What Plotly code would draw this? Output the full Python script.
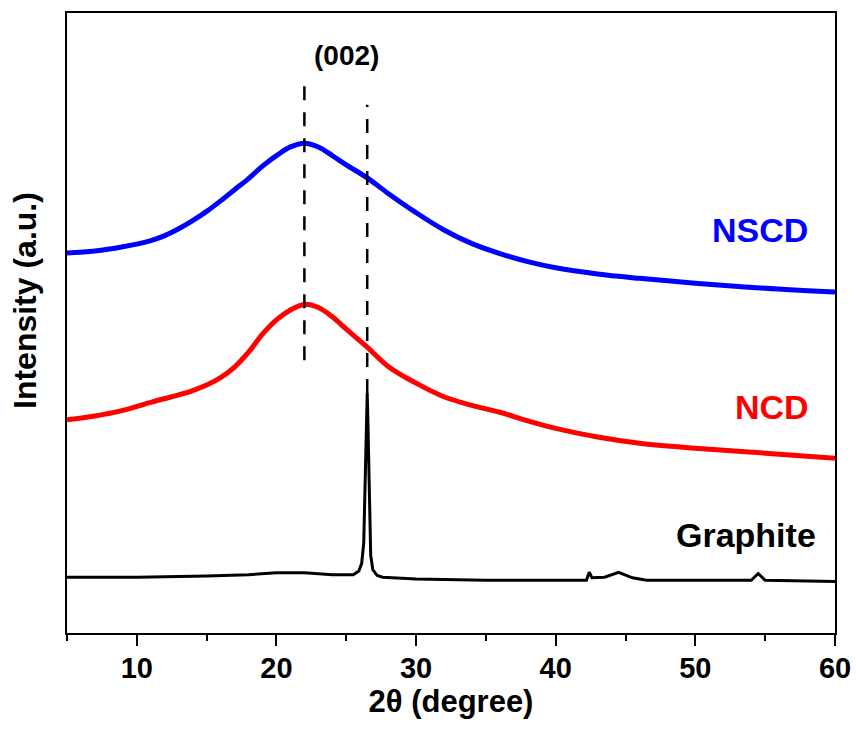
import plotly.graph_objects as go

# ---- data (2θ in degrees, intensity in arbitrary offset units) ----
nscd_x = [5, 7, 9, 11, 12, 13, 14, 15, 16, 17, 18, 19, 20, 21, 22, 23, 24, 25, 26.5, 28, 30, 32, 34, 36, 38, 40, 43, 46, 50, 55, 60]
nscd_y = [61.3, 61.6, 62.3, 63.3, 64.1, 65.2, 66.5, 68.0, 69.7, 71.5, 73.3, 75.3, 77.0, 78.4, 79.0, 78.4, 77.0, 75.5, 73.4, 70.9, 67.8, 65.0, 62.8, 61.2, 59.9, 58.9, 57.9, 57.2, 56.4, 55.6, 55.0]

ncd_x = [5, 7, 9, 11, 13, 14, 15, 16, 17, 18, 19, 20, 21, 22, 23, 24, 25, 26.5, 28, 30, 32, 34, 36, 38, 40, 43, 46, 50, 55, 60]
ncd_y = [34.4, 35.0, 35.9, 37.2, 38.4, 39.1, 40.0, 41.2, 42.9, 45.3, 48.2, 50.5, 52.1, 53.0, 52.5, 51.0, 49.0, 46.1, 43.0, 40.3, 38.1, 36.7, 35.6, 34.2, 33.0, 31.6, 30.6, 29.8, 29.0, 28.2]

gr_x = [5, 10, 15, 18, 20, 22, 24, 25.5, 25.9, 26.1, 26.25, 26.35, 26.45, 26.5, 26.55, 26.65, 26.75, 26.9, 27.2, 27.6, 30, 35, 40, 42.2, 42.4, 42.6, 43.5, 44.5, 45.5, 46.5, 54.0, 54.5, 55.0, 60]
gr_y = [9.0, 9.0, 9.2, 9.4, 9.7, 9.7, 9.4, 9.4, 10.0, 11.2, 14.5, 24.0, 35.0, 38.7, 34.0, 20.0, 12.5, 10.2, 9.3, 9.0, 8.7, 8.5, 8.5, 8.5, 9.8, 8.9, 9.0, 9.8, 8.9, 8.5, 8.5, 9.6, 8.5, 8.3]

ref_lines_x = [22.0, 26.5]
ref_lines_y0 = [44.0, 38.7]
ref_lines_y1 = [89.5, 85.2]

labels = ["NSCD", "NCD", "Graphite"]
label_x = [54.6, 55.5, 53.6]
label_y = [65.0, 36.5, 15.8]
label_colors = ["#0000FF", "#FF0000", "#000000"]

x_ticks = [10, 20, 30, 40, 50, 60]

font_family = "Liberation Sans, Arial, sans-serif"

fig = go.Figure()

fig.add_trace(go.Scatter(x=nscd_x, y=nscd_y, mode="lines",
                         line=dict(color="#0000FF", width=5, shape="spline", smoothing=1.0), showlegend=False))
fig.add_trace(go.Scatter(x=ncd_x, y=ncd_y, mode="lines",
                         line=dict(color="#FF0000", width=5, shape="spline", smoothing=1.0), showlegend=False))
fig.add_trace(go.Scatter(x=gr_x, y=gr_y, mode="lines",
                         line=dict(color="#000000", width=3), showlegend=False))

for xv, y0, y1 in zip(ref_lines_x, ref_lines_y0, ref_lines_y1):
    fig.add_trace(go.Scatter(x=[xv, xv], y=[y0, y1], mode="lines",
                             line=dict(color="#000000", width=2.5, dash="14px,12px"),
                             showlegend=False))

for t, xv, yv, c in zip(labels, label_x, label_y, label_colors):
    fig.add_annotation(x=xv, y=yv, text=t, showarrow=False,
                       font=dict(family=font_family, size=34, color=c, weight="bold"))

fig.add_annotation(x=25.0, y=93.1, text="(002)", showarrow=False,
                   font=dict(family=font_family, size=28, color="#000000", weight="bold"))

# y-axis title placed as rotated annotation (offset upward as in reference)
fig.add_annotation(xref="paper", yref="paper", x=-42 / 768, y=(633 - 301) / 620,
                   text="Intensity (a.u.)", textangle=-90, showarrow=False,
                   xanchor="center", yanchor="middle",
                   font=dict(family=font_family, size=32, color="#000000", weight="bold"))

fig.update_layout(
    width=856, height=729,
    margin=dict(l=67, r=21, t=13, b=96),
    paper_bgcolor="white", plot_bgcolor="white",
    font=dict(family=font_family, color="#000000"),
)

fig.update_xaxes(
    range=[5, 60], tickvals=x_ticks, ticktext=[str(v) for v in x_ticks],
    ticks="outside", ticklen=11, tickwidth=2, tickcolor="#000000",
    minor=dict(dtick=5, tick0=5, ticks="outside", ticklen=6, tickwidth=2, tickcolor="#000000"),
    showline=True, linewidth=2, linecolor="#000000", mirror=True,
    showgrid=False, zeroline=False, automargin=False,
    ticklabelstandoff=-3,
    tickfont=dict(family=font_family, size=29, weight="bold"),
    title=dict(text="2θ (degree)", font=dict(family=font_family, size=31, weight="bold"), standoff=0),
)
fig.update_yaxes(
    range=[0, 100], showticklabels=False, ticks="",
    showline=True, linewidth=2, linecolor="#000000", mirror=True,
    showgrid=False, zeroline=False, automargin=False,
)

fig.write_html("out.html")
